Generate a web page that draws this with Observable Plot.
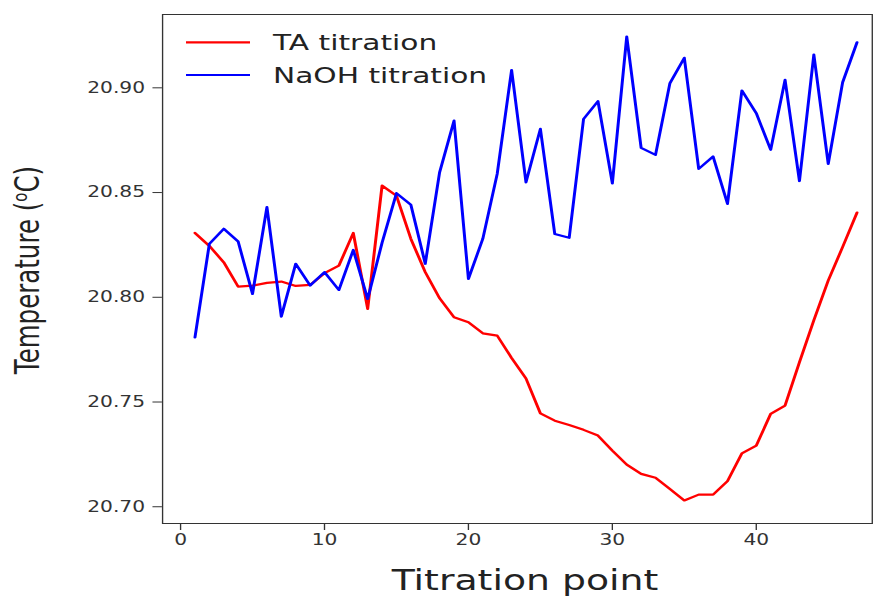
<!DOCTYPE html>
<html>
<head>
<meta charset="utf-8">
<script src="https://cdn.jsdelivr.net/npm/d3@7"></script>
<script src="https://cdn.jsdelivr.net/npm/@observablehq/plot@0.6"></script>
<style>
  html, body { margin: 0; padding: 0; background: white; }
  #chart { width: 877px; height: 597px; overflow: hidden; }
</style>
</head>
<body>
<div id="chart"></div>
<script>
// ---- data ----
const titrationPoint = [1,2,3,4,5,6,7,8,9,10,11,12,13,14,15,16,17,18,19,20,21,22,23,24,25,26,27,28,29,30,31,32,33,34,35,36,37,38,39,40,41,42,43,44,45,46,47];
const taTitration = [20.8307,20.8245,20.8167,20.8051,20.8056,20.8069,20.8075,20.8054,20.8059,20.8115,
                     20.8151,20.8307,20.7945,20.8533,20.8485,20.8279,20.8120,20.7995,20.7905,20.7881,
                     20.7828,20.7817,20.7710,20.7612,20.7446,20.7411,20.7390,20.7367,20.7340,20.7268,
                     20.7201,20.7157,20.7138,20.7085,20.7030,20.7058,20.7058,20.7122,20.7255,20.7292,
                     20.7443,20.7483,20.7690,20.7890,20.8080,20.8240,20.8404];
const naohTitration = [20.7809,20.8255,20.8327,20.8266,20.8016,20.8430,20.7908,20.8160,20.8056,20.8120,
                       20.8035,20.8226,20.7992,20.8260,20.8497,20.8442,20.8160,20.8597,20.8843,20.8088,
                       20.8279,20.8589,20.9085,20.8549,20.8804,20.8302,20.8284,20.8851,20.8936,20.8544,
                       20.9244,20.8713,20.8680,20.9022,20.9143,20.8613,20.8672,20.8446,20.8987,20.8879,
                       20.8704,20.9038,20.8555,20.9158,20.8637,20.9026,20.9217];
const seriesNames = ["TA titration", "NaOH titration"];
const seriesColors = ["#ff0000", "#0000ff"];
const xTicks = [0, 10, 20, 30, 40];
const yTicks = [20.70, 20.75, 20.80, 20.85, 20.90];
const xLabel = "Titration point";
const yLabelMain = "Temperature (";
const yLabelSup = "o";
const yLabelEnd = "C)";

// ---- layout (internal width is stretched horizontally to 877px, like the reference) ----
const W = 650, H = 597, OUTW = 877;
const SX = OUTW / W;

const rowsTA = titrationPoint.map((p, i) => ({point: p, temp: taTitration[i]}));
const rowsNa = titrationPoint.map((p, i) => ({point: p, temp: naohTitration[i]}));

const chart = Plot.plot({
  width: W,
  height: H,
  marginTop: 14,
  marginBottom: 74,
  marginLeft: 120,
  marginRight: 4,
  style: {fontFamily: "DejaVu Sans", fontSize: "15px", color: "#333", background: "white"},
  x: {domain: [-1.25, 48.06]},
  y: {domain: [20.692, 20.935]},
  marks: [
    Plot.axisX({ticks: xTicks, tickSize: 7, tickPadding: 4, label: null, tickFormat: d => String(d)}),
    Plot.axisY({ticks: yTicks, tickSize: 7, tickPadding: 6, label: null, tickFormat: d => d.toFixed(2)}),
    Plot.line(rowsTA, {x: "point", y: "temp", stroke: seriesColors[0], strokeWidth: 2.2}),
    Plot.line(rowsNa, {x: "point", y: "temp", stroke: seriesColors[1], strokeWidth: 2.2}),
    Plot.frame({stroke: "#333", strokeWidth: 1})
  ]
});

chart.setAttribute("width", OUTW);
chart.setAttribute("height", H);
chart.setAttribute("viewBox", `0 0 ${W} ${H}`);
chart.setAttribute("preserveAspectRatio", "none");
chart.style.width = OUTW + "px";
chart.style.height = H + "px";
chart.style.maxWidth = "none";

const svg = d3.select(chart);
const ff = "DejaVu Sans";

// x axis label
svg.append("text")
  .attr("x", 525 / SX).attr("y", 590)
  .attr("text-anchor", "middle")
  .attr("font-family", ff).attr("font-size", 28).attr("fill", "#222")
  .text(xLabel);

// y axis label
const yl = svg.append("text")
  .attr("transform", `translate(${38.5 / SX},270) rotate(-90)`)
  .attr("text-anchor", "middle")
  .attr("font-family", ff).attr("font-size", 24.5).attr("fill", "#222");
yl.append("tspan").text(yLabelMain);
yl.append("tspan").attr("baseline-shift", "super").attr("font-size", 15).text(yLabelSup);
yl.append("tspan").text(yLabelEnd);

// legend
const legY = [42.3, 75];
seriesNames.forEach((name, i) => {
  svg.append("line")
    .attr("x1", 186 / SX).attr("x2", 250 / SX)
    .attr("y1", legY[i]).attr("y2", legY[i])
    .attr("stroke", seriesColors[i]).attr("stroke-width", 2.2);
  svg.append("text")
    .attr("x", 273 / SX).attr("y", legY[i] + 7.7)
    .attr("text-anchor", "start")
    .attr("font-family", ff).attr("font-size", 22).attr("fill", "#222")
    .text(name);
});

document.getElementById("chart").appendChild(chart);
</script>
</body>
</html>
